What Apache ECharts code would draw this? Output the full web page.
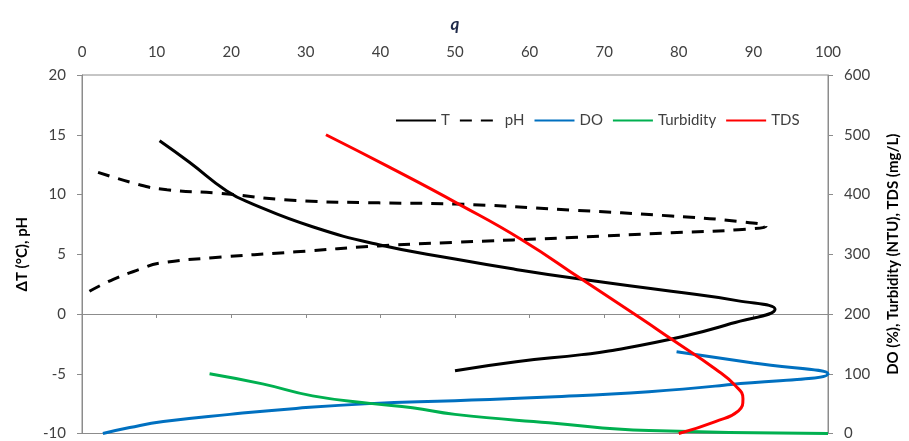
<!DOCTYPE html>
<html>
<head>
<meta charset="utf-8">
<script src="https://cdn.jsdelivr.net/npm/echarts@6/dist/echarts.min.js"></script>
<style>
  html, body { margin: 0; padding: 0; background: #fff; }
  #main { width: 909px; height: 441px; }
</style>
</head>
<body>
<div id="main"></div>
<script>
// q values and the matching variable values
const tQ = [10.4, 14.4, 19.4, 22.9, 30.9, 39.8, 50, 58, 67, 79, 88, 92.9, 87, 80.4, 70.6, 67, 58.2, 50]
const tVal = [14.5, 12.7, 10.3, 9.2, 7.3, 5.8, 4.6, 3.75, 2.9, 1.9, 1.1, 0.4, -0.8, -1.9, -3.1, -3.4, -4.0, -4.75]

const phQ = [1, 4.2, 7.8, 10.4, 17.5, 28.7, 39.8, 50, 65.6, 79, 88, 91.7, 88, 79, 65.6, 50, 39.8, 28.7, 18.4, 11.4, 7.8, 1]
const phVal = [1.9, 2.9, 3.75, 4.25, 4.7, 5.2, 5.7, 6.0, 6.4, 6.8, 7.05, 7.35, 7.75, 8.2, 8.7, 9.2, 9.3, 9.5, 10.1, 10.4, 10.8, 12.1]

const doQ = [79.7, 90, 100, 87, 76, 62.6, 50, 38.5, 28.7, 19.8, 10.9, 6.4, 2.8]
const doVal = [137, 118, 100, 82, 70, 61, 55, 50, 42, 32, 20, 10, 0]

const turbQ = [17.1, 24.2, 30.9, 38.9, 44.3, 50, 62.6, 76, 100]
const turbVal = [100, 83, 63, 50, 43, 32, 18, 5, 0]

const tdsQ = [32.7, 41, 50.5, 59, 67, 75, 79, 84.9, 87.6, 88.6, 88, 84.9, 80]
const tdsVal = [500, 447, 384, 324, 258, 192, 158, 108, 80, 58, 38, 20, 0]

const xTicks = { min: 0, max: 100, interval: 10 }
const leftTicks = { min: -10, max: 20, interval: 5 }
const rightTicks = { min: 0, max: 600, interval: 100 }

const zip = (a, b) => a.map((v, i) => [v, b[i]])

const font = "Lato"
const axisGray = "#8c8c8c"
const labelColor = "#404040"

const chart = echarts.init(document.getElementById("main"))

const line = (name, data, color, yIdx, dashed) => ({
  name: name,
  type: "line",
  yAxisIndex: yIdx,
  data: data,
  smooth: 0.5,
  symbol: "none",
  clip: false,
  lineStyle: {
    color: color,
    width: 3,
    type: dashed ? [12, 9] : "solid"
  },
  itemStyle: { color: color }
})

chart.setOption({
  animation: false,
  textStyle: { fontFamily: font },
  grid: {
    left: 82,
    right: 79,
    top: 75,
    bottom: 6,
    show: true,
    borderColor: axisGray,
    borderWidth: 1
  },
  legend: {
    left: 390,
    top: 108,
    itemWidth: 40,
    itemHeight: 14,
    itemGap: 9,
    itemStyle: { opacity: 0 },
    textStyle: { color: labelColor, fontSize: 15, fontFamily: font },
    data: ["T", "pH", "DO", "Turbidity", "TDS"]
  },
  xAxis: {
    type: "value",
    position: "top",
    min: xTicks.min,
    max: xTicks.max,
    interval: xTicks.interval,
    name: "q",
    nameLocation: "middle",
    nameGap: 42,
    nameTextStyle: { fontStyle: "italic", fontWeight: "bold", fontSize: 17, color: "#1f2a4a", fontFamily: font },
    axisLine: { lineStyle: { color: axisGray } },
    axisTick: { inside: true, length: 4, lineStyle: { color: axisGray } },
    axisLabel: { margin: 15, fontSize: 15, color: labelColor, fontFamily: font },
    splitLine: { show: false }
  },
  yAxis: [
    {
      type: "value",
      position: "left",
      min: leftTicks.min,
      max: leftTicks.max,
      interval: leftTicks.interval,
      name: "\u0394T (\u00B0C), pH",
      nameLocation: "middle",
      nameRotate: 90,
      nameGap: 52,
      nameTextStyle: { fontWeight: "bold", fontSize: 15, color: "#000", fontFamily: font },
      axisLine: { show: true, lineStyle: { color: axisGray } },
      axisTick: { show: true, length: 5, lineStyle: { color: axisGray } },
      axisLabel: { margin: 16, fontSize: 15, color: labelColor, fontFamily: font },
      splitLine: { show: false }
    },
    {
      type: "value",
      position: "right",
      min: rightTicks.min,
      max: rightTicks.max,
      interval: rightTicks.interval,
      name: "DO (%), Turbidity (NTU), TDS (mg/L)",
      nameLocation: "middle",
      nameRotate: 90,
      nameGap: 58,
      nameTextStyle: { fontWeight: "bold", fontSize: 15, color: "#000", fontFamily: font },
      axisLine: { show: true, lineStyle: { color: axisGray } },
      axisTick: { show: true, length: 5, lineStyle: { color: axisGray } },
      axisLabel: { margin: 16, fontSize: 15, color: labelColor, fontFamily: font },
      splitLine: { show: false }
    }
  ],
  series: [
    line("T", zip(tQ, tVal), "#000000", 0, false),
    line("pH", zip(phQ, phVal), "#000000", 0, true),
    line("DO", zip(doQ, doVal), "#0070c0", 1, false),
    line("Turbidity", zip(turbQ, turbVal), "#00b050", 1, false),
    line("TDS", zip(tdsQ, tdsVal), "#ff0000", 1, false)
  ]
})
</script>
</body>
</html>
